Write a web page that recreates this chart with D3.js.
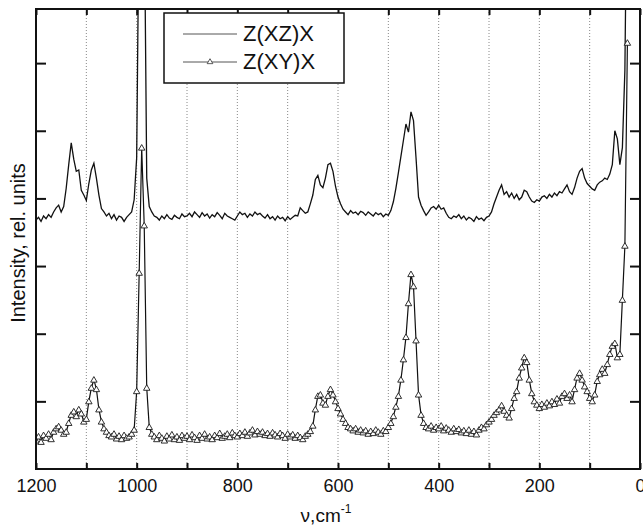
<!DOCTYPE html>
<html><head><meta charset="utf-8">
<script src="https://cdn.jsdelivr.net/npm/d3@7"></script>
<style>
html,body{margin:0;padding:0;background:#fff;}
svg{display:block;font-family:Arial,"Liberation Sans",sans-serif;}
</style></head>
<body>
<svg id="chart" width="643" height="527"></svg>
<script>
// Wavenumber grid (cm^-1), 1200 down to 25 in 5 cm^-1 steps
const nuStart = 1200, nuStep = 5;
const seriesNames = ["Z(XZ)X", "Z(XY)X"];
const xTickValues = [1200, 1000, 800, 600, 400, 200, 0];
const xMinorTicks = [1200,1100,1000,900,800,700,600,500,400,300,200,100,0];
const gridValues = [1100,1000,900,800,700,600,500,400,300,200,100];
const yTickValues = [1,2,3,4,5,6];

const xzValues = [
3.68,3.72,3.66,3.74,3.70,3.76,3.72,3.80,3.86,3.90,
3.80,3.88,4.15,4.50,4.82,4.58,4.40,4.42,4.12,4.05,
3.97,4.22,4.42,4.52,4.30,4.05,3.85,3.80,3.74,3.78,
3.70,3.76,3.68,3.74,3.72,3.66,3.72,3.76,3.80,3.98,
4.60,8.50,11.0,8.50,4.30,3.88,3.80,3.74,3.72,3.68,
3.74,3.70,3.76,3.71,3.69,3.75,3.72,3.70,3.77,3.73,
3.74,3.78,3.73,3.80,3.76,3.72,3.79,3.74,3.77,3.71,
3.76,3.73,3.79,3.75,3.70,3.78,3.74,3.72,3.70,3.68,
3.74,3.80,3.76,3.78,3.72,3.77,3.74,3.80,3.76,3.78,
3.74,3.71,3.76,3.70,3.73,3.68,3.74,3.70,3.72,3.67,
3.73,3.69,3.72,3.75,3.74,3.86,3.82,3.78,3.80,3.92,
4.05,4.28,4.34,4.20,4.16,4.30,4.50,4.52,4.40,4.18,
4.02,3.92,3.84,3.80,3.76,3.82,3.78,3.80,3.76,3.81,
3.79,3.75,3.80,3.77,3.74,3.79,3.76,3.78,3.73,3.77,
3.75,3.82,3.95,4.15,4.38,4.62,4.86,5.10,4.98,5.28,
5.15,4.60,4.02,3.90,3.82,3.75,3.80,3.86,3.88,3.84,
3.90,3.84,3.86,3.78,3.72,3.70,3.74,3.72,3.76,3.70,
3.74,3.68,3.72,3.70,3.66,3.73,3.69,3.71,3.67,3.72,
3.74,3.80,3.92,4.02,4.12,4.20,4.06,4.10,4.02,4.08,
4.00,4.06,3.98,4.02,4.12,4.10,4.02,3.96,3.94,3.98,
3.96,4.02,4.04,4.00,4.06,4.02,4.08,4.04,4.10,4.08,
4.14,4.20,4.10,4.06,4.16,4.30,4.40,4.44,4.30,4.22,
4.18,4.14,4.12,4.20,4.24,4.26,4.30,4.28,4.36,4.50,
5.00,4.88,4.50,4.75,5.90,9.50
];

const xyValues = [
0.42,0.48,0.40,0.50,0.46,0.52,0.44,0.55,0.60,0.63,
0.58,0.52,0.55,0.68,0.80,0.85,0.78,0.88,0.82,0.70,
0.74,1.00,1.20,1.32,1.18,0.88,0.70,0.60,0.55,0.50,
0.48,0.52,0.45,0.49,0.44,0.50,0.46,0.48,0.52,0.58,
1.15,2.90,4.75,3.60,1.20,0.62,0.52,0.48,0.44,0.50,
0.46,0.42,0.49,0.45,0.51,0.44,0.48,0.43,0.50,0.46,
0.49,0.44,0.51,0.47,0.43,0.50,0.46,0.52,0.45,0.48,
0.44,0.50,0.47,0.53,0.46,0.49,0.52,0.47,0.54,0.50,
0.48,0.53,0.50,0.55,0.49,0.54,0.58,0.51,0.56,0.52,
0.55,0.50,0.53,0.49,0.54,0.51,0.48,0.53,0.50,0.46,
0.52,0.48,0.51,0.46,0.50,0.47,0.44,0.49,0.52,0.56,
0.64,0.88,1.08,1.10,0.98,0.95,1.08,1.18,1.10,1.00,
0.90,0.82,0.74,0.68,0.62,0.60,0.57,0.60,0.55,0.58,
0.54,0.57,0.52,0.56,0.53,0.58,0.55,0.52,0.57,0.56,
0.62,0.68,0.78,0.92,1.08,1.32,1.62,1.95,2.45,2.88,
2.70,1.90,1.10,0.80,0.68,0.62,0.60,0.64,0.58,0.62,
0.60,0.64,0.57,0.61,0.58,0.55,0.60,0.56,0.59,0.54,
0.57,0.53,0.58,0.52,0.56,0.51,0.58,0.62,0.60,0.66,
0.70,0.74,0.80,0.84,0.88,0.94,0.86,0.80,0.76,0.90,
1.05,1.15,1.35,1.50,1.65,1.58,1.32,1.12,1.00,0.95,
0.90,0.96,0.92,0.98,0.94,1.00,0.96,1.04,0.98,1.08,
1.12,1.05,1.10,1.00,1.18,1.35,1.42,1.32,1.22,1.15,
1.05,1.00,1.10,1.30,1.40,1.48,1.42,1.55,1.70,1.82,
1.86,1.65,1.70,2.50,3.30,6.30
];

const svg = d3.select("#chart");
const L = 36, R = 640, T = 9, B = 469;
const x = d3.scaleLinear().domain([1200, 0]).range([L, R]);
const y = d3.scaleLinear().domain([0, 6.8]).range([B, T]);
const toPts = vals => vals.map((v, i) => ({nu: nuStart - i * nuStep, v}));
const xzData = toPts(xzValues), xyData = toPts(xyValues);

svg.append("defs").append("clipPath").attr("id","clip")
  .append("rect").attr("x",L).attr("y",T).attr("width",R-L).attr("height",B-T);

// grid
svg.append("g").selectAll("line").data(gridValues).join("line")
  .attr("x1",d=>x(d)).attr("x2",d=>x(d)).attr("y1",T).attr("y2",B)
  .attr("stroke","#888").attr("stroke-width",1).attr("stroke-dasharray","1,2");

const line = d3.line().x(d=>x(d.nu)).y(d=>y(d.v));
const plot = svg.append("g").attr("clip-path","url(#clip)");
plot.append("path").datum(xzData).attr("d",line)
  .attr("fill","none").attr("stroke","#111").attr("stroke-width",1.3);
plot.append("path").datum(xyData).attr("d",line)
  .attr("fill","none").attr("stroke","#111").attr("stroke-width",1.2);
const tri = d3.symbol().type(d3.symbolTriangle).size(18);
plot.append("g").selectAll("path").data(xyData).join("path")
  .attr("d",tri).attr("transform",d=>`translate(${x(d.nu)},${y(d.v)+0.6})`)
  .attr("fill","#fff").attr("stroke","#1a1a1a").attr("stroke-width",0.9);

// axes
const axB = svg.append("g").attr("transform",`translate(0,${B})`)
  .call(d3.axisBottom(x).tickValues(xMinorTicks).tickSize(-6).tickFormat(""));
const axT = svg.append("g").attr("transform",`translate(0,${T})`)
  .call(d3.axisTop(x).tickValues(xMinorTicks).tickSize(-6).tickFormat(""));
const axL = svg.append("g").attr("transform",`translate(${L},0)`)
  .call(d3.axisLeft(y).tickValues(yTickValues).tickSize(-10).tickFormat(""));
const axR = svg.append("g").attr("transform",`translate(${R},0)`)
  .call(d3.axisRight(y).tickValues(yTickValues).tickSize(-10).tickFormat(""));
[axB,axT,axL,axR].forEach(g=>{
  g.select(".domain").remove();
  g.selectAll(".tick line").attr("stroke","#111").attr("stroke-width",2);
});
svg.append("g").attr("transform",`translate(0,${B})`)
  .call(d3.axisBottom(x).tickValues(xTickValues).tickSize(0).tickPadding(10).tickFormat(d3.format("d")))
  .call(g=>{g.select(".domain").remove();
    g.selectAll("text").attr("font-size",18).attr("fill","#111")
     .attr("font-family","Arial, 'Liberation Sans', sans-serif").attr("dy","0.72em");});
svg.append("rect").attr("x",L).attr("y",T).attr("width",R-L).attr("height",B-T)
  .attr("fill","none").attr("stroke","#111").attr("stroke-width",2);

// axis titles
const xt = svg.append("text").attr("x",326).attr("y",522).attr("text-anchor","middle")
  .attr("font-size",19).attr("fill","#111");
xt.append("tspan").text("ν,cm");
xt.append("tspan").attr("dy",-9).attr("font-size",12).text("-1");
svg.append("text").attr("transform","translate(25,243) rotate(-90)")
  .attr("text-anchor","middle").attr("font-size",20).attr("fill","#111")
  .text("Intensity, rel. units");

// legend
const lg = svg.append("g");
lg.append("rect").attr("x",164).attr("y",13).attr("width",180).attr("height",70)
  .attr("fill","#fff").attr("stroke","#111").attr("stroke-width",1.5);
const rows = [{name:seriesNames[0], y:34, marker:false},{name:seriesNames[1], y:62, marker:true}];
rows.forEach(r=>{
  lg.append("line").attr("x1",183).attr("x2",237).attr("y1",r.y).attr("y2",r.y)
    .attr("stroke","#555").attr("stroke-width",1);
  if(r.marker) lg.append("path").attr("d",d3.symbol().type(d3.symbolTriangle).size(14))
    .attr("transform",`translate(210,${r.y})`)
    .attr("fill","#fff").attr("stroke","#333").attr("stroke-width",0.8);
  lg.append("text").attr("x",243).attr("y",r.y+7).attr("font-size",22).attr("fill","#111").text(r.name);
});
</script>
</body></html>
